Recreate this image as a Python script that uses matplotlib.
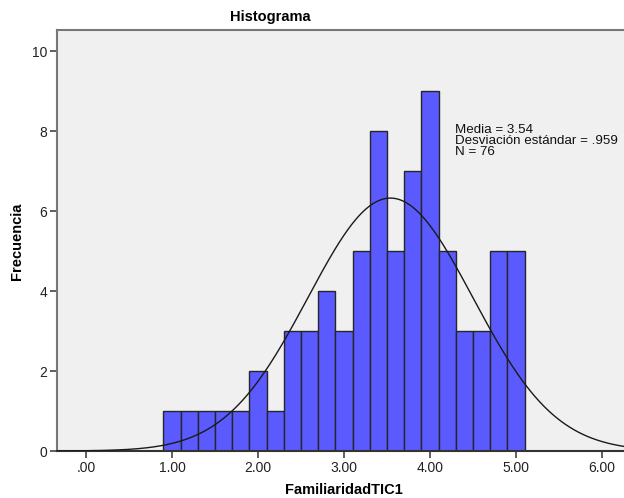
import numpy as np
import matplotlib.pyplot as plt

plt.rcParams['font.family'] = ['Liberation Sans', 'DejaVu Sans']

# Histogram bins (width 0.2) and counts
bin_edges = [0.9, 1.1, 1.3, 1.5, 1.7, 1.9, 2.1, 2.3, 2.5, 2.7, 2.9,
             3.1, 3.3, 3.5, 3.7, 3.9, 4.1, 4.3, 4.5, 4.7, 4.9, 5.1]
counts = [1, 1, 1, 1, 1, 2, 1, 3, 3, 4, 3, 5, 8, 5, 7, 9, 5, 3, 3, 5, 5]

media = 3.54
desv = 0.959
n = 76

x_ticks = [0, 1, 2, 3, 4, 5, 6]
x_labels = ['.00', '1.00', '2.00', '3.00', '4.00', '5.00', '6.00']
y_ticks = [0, 2, 4, 6, 8, 10]

W, H = 624, 498
fig = plt.figure(figsize=(W / 100, H / 100), dpi=100)
ax = fig.add_axes([57 / W, (H - 451) / H, (626 - 57) / W, (451 - 30) / H])
ax.set_facecolor('#f0f0f0')

lefts = np.array(bin_edges[:-1])
widths = np.diff(bin_edges)
ax.bar(lefts, counts, width=widths, align='edge', color='#5a5aff',
       edgecolor='#262626', linewidth=1.0, zorder=2)

# normal curve scaled to the histogram
xs = np.linspace(-0.4, 6.3, 400)
bw = widths[0]
ys = n * bw / (desv * np.sqrt(2 * np.pi)) * np.exp(-0.5 * ((xs - media) / desv) ** 2)
ax.plot(xs, ys, color='#1a1a1a', linewidth=1.0, zorder=3)

ax.set_xlim(-0.337, (626 - 86) / 86)
ax.set_ylim(0, (451 - 30) / 40)
ax.set_xticks(x_ticks)
ax.set_xticklabels(x_labels)
ax.set_yticks(y_ticks)
ax.tick_params(axis='both', direction='out', length=5, width=1.2,
               color='#444444', labelsize=10, labelcolor='#222222', pad=2)

for side in ['left', 'top']:
    ax.spines[side].set_color('#777777')
    ax.spines[side].set_linewidth(1.5)
ax.spines['bottom'].set_color('#333333')
ax.spines['bottom'].set_linewidth(1.5)
ax.spines['right'].set_visible(False)

ax.text(4.29, 8.18, f'Media = {media:.2f}\nDesviación estándar = {str(desv)[1:]}\nN = {n}',
        fontsize=9.6, va='top', ha='left', linespacing=0.9, color='#111111')

fig.text(270 / W, 1 - 17 / H, 'Histograma', ha='center', va='center',
         fontsize=10.5, fontweight='bold')
fig.text(344 / W, 1 - 490 / H, 'FamiliaridadTIC1', ha='center', va='center',
         fontsize=10.5, fontweight='bold')
fig.text(17 / W, 1 - 241 / H, 'Frecuencia', ha='center', va='center',
         rotation=90, fontsize=10.5, fontweight='bold')

fig.savefig('out.png', dpi=100)
